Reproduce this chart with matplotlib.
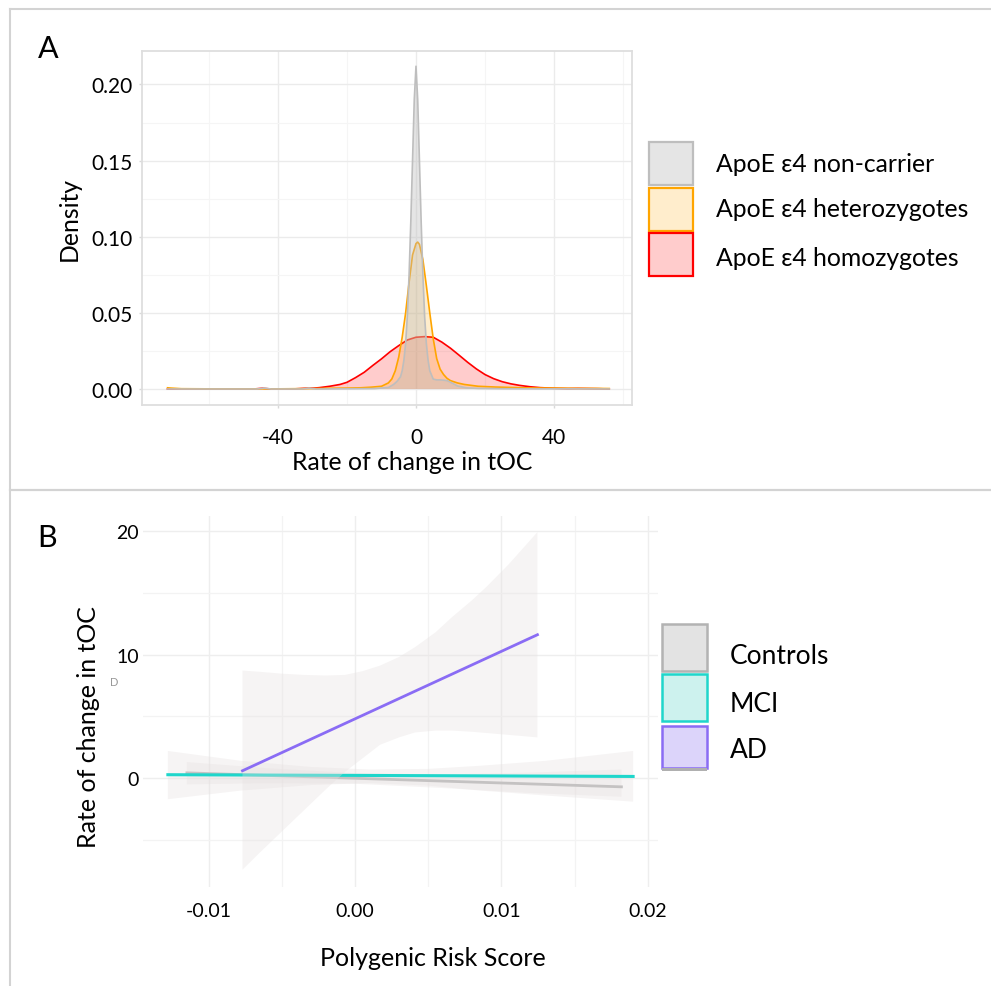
import matplotlib
matplotlib.use("Agg")
import matplotlib.pyplot as plt
from matplotlib.patches import Rectangle
from matplotlib.lines import Line2D
from matplotlib.ticker import MultipleLocator

plt.rcParams['font.family'] = ['Lato', 'DejaVu Sans']

# ---------------- Panel A data (density curves) ----------------
groups_a = ['ApoE ε4 non-carrier', 'ApoE ε4 heterozygotes', 'ApoE ε4 homozygotes']
colors_a = ['#bebebe', '#ffa500', '#ff0000']
alphas_a = [0.4, 0.2, 0.2]

noncarrier_x = [-72, -46, -44, -42, -33, -31, -29, -12, -8, -6.5, -5.5, -4.5, -4, -3.5, -3,
                -2.5, -2, -1.5, -1, -0.5, 0, 0.5, 1, 1.5, 2, 2.5, 3, 3.5, 4, 5, 6, 7, 8, 9,
                10, 12, 14.5, 18, 25, 35, 45, 56]
noncarrier_y = [0, 0, 0.0006, 0, 0, 0.0006, 0, 0.0003, 0.001, 0.003, 0.005, 0.008, 0.012,
                0.019, 0.03, 0.048, 0.075, 0.11, 0.15, 0.19, 0.212, 0.19, 0.15, 0.11, 0.075,
                0.048, 0.03, 0.019, 0.012, 0.0065, 0.006, 0.006, 0.0058, 0.0055, 0.0045,
                0.002, 0.0008, 0.0004, 0.0002, 0.0001, 0.0001, 0]

hetero_x = [-72, -71, -68, -60, -40, -30, -25, -20, -16, -13, -10, -8, -7, -6, -5, -4, -3,
            -2, -1, 0, 0.5, 1, 2, 3, 4, 5, 6, 7, 8, 9, 10, 12, 14, 18, 23, 33, 40, 47, 52, 56]
hetero_y = [0.0008, 0.0006, 0.0002, 0.0001, 0.0001, 0.0003, 0.0005, 0.0006, 0.0008, 0.0012,
            0.0018, 0.004, 0.0066, 0.012, 0.021, 0.034, 0.05, 0.07, 0.088, 0.0955, 0.0965,
            0.095, 0.085, 0.068, 0.05, 0.033, 0.02, 0.013, 0.0095, 0.007, 0.0055, 0.004,
            0.003, 0.0018, 0.0013, 0.0007, 0.0006, 0.0004, 0.0004, 0.0003]

homo_x = [-72, -47, -44.5, -42, -35, -32, -29.5, -28, -25, -22, -20, -17.5, -15, -12.5, -10,
          -7.5, -5, -2.5, 0, 2.5, 5, 7.5, 10, 12.5, 15, 17.5, 20, 22.5, 25, 27.5, 30, 33, 36,
          40, 44, 47, 50, 53, 56]
homo_y = [0, 0, 0.0005, 0, 0.0001, 0.0005, 0.0006, 0.0009, 0.0018, 0.003, 0.0044, 0.0075,
          0.011, 0.0155, 0.0198, 0.0245, 0.0285, 0.0322, 0.034, 0.0344, 0.034, 0.0308,
          0.0268, 0.0222, 0.0175, 0.0132, 0.0095, 0.0068, 0.0048, 0.0034, 0.0024, 0.0015,
          0.0009, 0.0005, 0.0003, 0.0004, 0.0003, 0.0002, 0]

a_xticks = [-40, 0, 40]
a_yticks = [0.00, 0.05, 0.10, 0.15, 0.20]

# ---------------- Panel B data (regression lines + CI ribbons) ----------------
groups_b = ['Controls', 'MCI', 'AD']
colors_b = ['#b3b3b3', '#1fd6cb', '#8a6cf4']
key_fill_b = ['#e3e3e3', '#cdf2ee', '#dcd4fa']

ctrl_x = [-0.0115, 0.0182]
ctrl_fit = [0.43, -0.70]
ctrl_band_x = [-0.0115, -0.006, 0.0, 0.006, 0.012, 0.0182]
ctrl_band_hi = [1.3, 0.8, 0.4, 0.3, 0.45, 0.7]
ctrl_band_lo = [-0.5, -0.4, -0.45, -0.8, -1.2, -1.5]

mci_x = [-0.0128, 0.0190]
mci_fit = [0.28, 0.14]
mci_band_x = [-0.0128, -0.0078, -0.003, 0.001, 0.005, 0.0085, 0.013, 0.019]
mci_band_hi = [2.2, 1.4, 0.9, 0.7, 0.75, 1.0, 1.4, 2.2]
mci_band_lo = [-1.7, -1.0, -0.55, -0.4, -0.6, -1.0, -1.4, -1.9]

ad_x = [-0.0077, 0.01246]
ad_fit = [0.6, 11.6]
ad_band_x = [-0.0077, -0.0065, -0.005, -0.0035, -0.002, -0.0007, 0.0005, 0.0017, 0.003,
             0.0041, 0.0055, 0.0066, 0.008, 0.009, 0.0105, 0.01246]
ad_band_hi = [8.7, 8.6, 8.45, 8.35, 8.3, 8.35, 8.65, 9.1, 9.8, 10.6, 11.8, 13.0, 14.4, 15.5,
              17.3, 19.9]
ad_band_lo = [-7.4, -6.0, -4.3, -2.6, -0.9, 0.5, 1.6, 2.7, 3.3, 3.7, 3.85, 3.85, 3.75, 3.65,
              3.5, 3.3]

b_xticks = [-0.01, 0.00, 0.01, 0.02]
b_xticklabels = ['-0.01', '0.00', '0.01', '0.02']
b_yticks = [0, 10, 20]

# ---------------- Figure ----------------
W, H = 991, 987
fig = plt.figure(figsize=(W / 100, H / 100), dpi=100)
fig.patch.set_facecolor('white')

def fx(px):
    return px / W

def fy(py):
    return 1 - py / H

# ---- Panel A ----
axA = fig.add_axes([fx(142), fy(406), (632 - 142) / W, (406 - 52) / H])
axA.set_xlim(-79.4, 62.6)
axA.set_ylim(-0.0105, 0.222)
axA.set_facecolor('white')
series_a = [(noncarrier_x, noncarrier_y), (hetero_x, hetero_y), (homo_x, homo_y)]
draw_order = [2, 1, 0]
for k, i in enumerate(draw_order):
    xs, ys = series_a[i]
    axA.fill_between(xs, 0, ys, facecolor=colors_a[i], alpha=alphas_a[i],
                     edgecolor='none', zorder=2 + k * 0.1)
    axA.plot(xs, ys, color=colors_a[i], lw=1.2, zorder=2.05 + k * 0.1)
axA.set_xticks(a_xticks)
axA.set_xticklabels([str(v) for v in a_xticks])
axA.set_yticks(a_yticks)
axA.set_yticklabels([f'{v:.2f}' for v in a_yticks])
axA.xaxis.set_minor_locator(MultipleLocator(20))
axA.yaxis.set_minor_locator(MultipleLocator(0.025))
axA.grid(which='major', color='#ebebeb', lw=1.0, zorder=0)
axA.grid(which='minor', color='#f5f5f5', lw=0.8, zorder=0)
axA.set_axisbelow(True)
for s in axA.spines.values():
    s.set_color('#dedede')
    s.set_linewidth(1.3)
axA.tick_params(axis='both', which='major', color='#d9d9d9', length=2.5, width=1,
                labelsize=15, labelcolor='black')
axA.tick_params(axis='x', pad=13)
axA.tick_params(axis='y', pad=4)
axA.tick_params(which='minor', length=0)
axA.set_xlabel('Rate of change in tOC', fontsize=17.8)
axA.xaxis.set_label_coords((412 - 142) / 490, -(463 - 406) / 354)
axA.xaxis.label.set_va('center')
axA.set_ylabel('Density', fontsize=17.8)
axA.yaxis.set_label_coords((69 - 142) / 490, (406 - 219) / 354)
axA.yaxis.label.set_va('center')

# ---- Panel B ----
axB = fig.add_axes([fx(143), fy(888), (658 - 143) / W, (888 - 517) / H])
axB.set_xlim(-0.0145, 0.0207)
axB.set_ylim(-8.8, 21.2)
for s in axB.spines.values():
    s.set_visible(False)
ribbon_color = '#e6e0e0'
ribbon_alpha = 0.35
axB.fill_between(ctrl_band_x, ctrl_band_lo, ctrl_band_hi, facecolor=ribbon_color,
                 alpha=ribbon_alpha, edgecolor='none', zorder=2)
axB.plot(ctrl_x, ctrl_fit, color=colors_b[0], lw=2.0, zorder=2.1)
axB.fill_between(mci_band_x, mci_band_lo, mci_band_hi, facecolor=ribbon_color,
                 alpha=ribbon_alpha, edgecolor='none', zorder=2.2)
axB.plot(mci_x, mci_fit, color=colors_b[1], lw=2.2, zorder=2.3)
axB.fill_between(ad_band_x, ad_band_lo, ad_band_hi, facecolor=ribbon_color,
                 alpha=ribbon_alpha, edgecolor='none', zorder=2.4)
axB.plot(ad_x, ad_fit, color=colors_b[2], lw=2.0, zorder=2.5)
axB.set_xticks(b_xticks)
axB.set_xticklabels(b_xticklabels)
axB.set_yticks(b_yticks)
axB.set_yticklabels([str(v) for v in b_yticks])
axB.xaxis.set_minor_locator(MultipleLocator(0.005))
axB.yaxis.set_minor_locator(MultipleLocator(5))
axB.grid(which='major', color='#eeeeee', lw=1.0, zorder=0)
axB.grid(which='minor', color='#f3f3f3', lw=0.9, zorder=0)
axB.set_axisbelow(True)
axB.tick_params(axis='both', which='both', length=0, labelsize=14, labelcolor='black')
axB.tick_params(axis='x', pad=11)
axB.tick_params(axis='y', pad=3)
axB.set_xlabel('Polygenic Risk Score', fontsize=18)
axB.xaxis.set_label_coords((433 - 143) / 515, -(959 - 888) / 371)
axB.xaxis.label.set_va('center')
axB.set_ylabel('Rate of change in tOC', fontsize=18)
axB.yaxis.set_label_coords((89 - 143) / 515, (888 - 727) / 371)
axB.yaxis.label.set_va('center')

# ---- Overlay for frames, panel tags and legends (pixel coordinates) ----
ov = fig.add_axes([0, 0, 1, 1], zorder=10)
ov.set_xlim(0, W)
ov.set_ylim(H, 0)
ov.axis('off')
ov.patch.set_alpha(0)

frame_c = '#d3d3d3'
ov.add_line(Line2D([10, W], [9.5, 9.5], color=frame_c, lw=1.5))
ov.add_line(Line2D([10, 10], [9.5, H], color=frame_c, lw=1.5))
ov.add_line(Line2D([10, W], [491, 491], color=frame_c, lw=1.6))

ov.text(48, 49, 'A', fontsize=22, ha='center', va='center')
ov.text(47, 538, 'B', fontsize=22, ha='center', va='center')
ov.text(114.5, 683, 'D', fontsize=8, ha='center', va='center', color='#999999')

# Legend A
key_tops_a = [143, 189, 234]
text_y_a = [164.5, 209.5, 259]
for top, ty, lab, c, a in zip(key_tops_a, text_y_a, groups_a, colors_a, alphas_a):
    ov.add_patch(Rectangle((649, top), 44, 43, facecolor='white', edgecolor='none'))
    ov.add_patch(Rectangle((649, top), 44, 43, facecolor=c, alpha=a, edgecolor='none'))
    ov.add_patch(Rectangle((649, top), 44, 43, facecolor='none', edgecolor=c, lw=1.6))
    ov.text(716, ty, lab, fontsize=17.8, ha='left', va='center')

# Legend B
key_tops_b = [625, 675, 727]
key_h_b = [47, 47, 42]
text_y_b = [656, 705, 751]
for top, h, ty, lab, c, f in zip(key_tops_b, key_h_b, text_y_b, groups_b, colors_b, key_fill_b):
    ov.add_patch(Rectangle((662, top), 45, h, facecolor=f, edgecolor=c, lw=1.8))
    ov.text(730, ty, lab, fontsize=19, ha='left', va='center')
ov.add_patch(Rectangle((662, 769), 45, 3, facecolor='#b0b0b0', edgecolor='none'))

fig.savefig('out.png', dpi=100, facecolor='white')
